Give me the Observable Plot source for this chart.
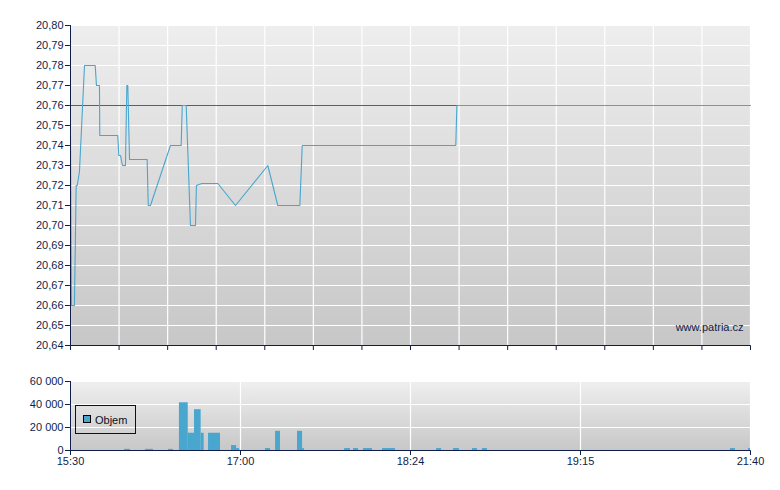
<!DOCTYPE html>
<html>
<head>
<meta charset="utf-8">
<script src="https://cdn.jsdelivr.net/npm/d3@7"></script>
<script src="https://cdn.jsdelivr.net/npm/@observablehq/plot@0.6"></script>
<style>
  body { margin: 0; background: #fff; }
  #wrap { position: relative; width: 780px; height: 490px; font-family: "Liberation Sans", Arial, sans-serif; overflow: hidden; }
  #top, #bot { position: absolute; left: 0; }
  #top { top: 0; }
  #bot { top: 360px; }
  #legend { position: absolute; left: 75px; top: 405px; width: 59px; height: 27px; border: 1px solid #111; }
  #legend .sw { position: absolute; left: 7px; top: 9px; width: 6px; height: 6px; border: 1px solid #000; background: #48a6cf; }
  #legend .lb { position: absolute; left: 19px; top: 9px; font-size: 11px; line-height: 11px; color: #0b0f1e; }
</style>
</head>
<body>
<div id="wrap">
  <div id="top"></div>
  <div id="bot"></div>
  <div id="legend"><span class="sw"></span><span class="lb">Objem</span></div>
</div>
<script>
// ---- data ----
const timeLabels = ["15:30", "17:00", "18:24", "19:15", "21:40"];
const priceTicks = [20.64, 20.65, 20.66, 20.67, 20.68, 20.69, 20.70, 20.71, 20.72, 20.73, 20.74, 20.75, 20.76, 20.77, 20.78, 20.79, 20.80];
const volumeTicks = [0, 20000, 40000, 60000];
const referencePrice = 20.76;

const priceTimes = ["15:30:00","15:30:30","15:32:05","15:33:00","15:33:35","15:34:45","15:37:25","15:43:05","15:43:45","15:45:20",
  "15:45:30","15:55:00","15:55:35","15:56:30","15:57:30","15:59:05","15:59:50","16:00:20","16:01:15","16:10:35",
  "16:11:10","16:12:20","16:22:55","16:28:35","16:29:10","16:31:15","16:33:30","16:36:10","16:36:40","16:39:30",
  "16:48:00","16:57:20","17:13:30","17:18:25","17:29:20","17:30:30","18:37:35","18:37:55","21:40:00"];
const prices = [20.745,20.66,20.66,20.72,20.72,20.727,20.78,20.78,20.77,20.77,
  20.745,20.745,20.735,20.735,20.73,20.73,20.77,20.77,20.733,20.733,
  20.71,20.71,20.74,20.74,20.76,20.76,20.70,20.70,20.72,20.721,
  20.721,20.71,20.73,20.71,20.71,20.74,20.74,20.76,20.76];

const volStart = ["15:58:35","16:09:40","16:21:55","16:27:40","16:32:20","16:35:40","16:39:10","16:43:05","16:55:15","16:57:55",
  "17:12:20","17:17:20","17:28:10","17:30:40","17:51:25","17:55:50","18:00:45","18:10:10","18:31:50","18:36:55",
  "18:42:35","18:45:35","21:22:55","21:38:20"];
const volEnd = ["16:01:45","16:13:55","16:24:30","16:32:20","16:35:40","16:39:10","16:40:45","16:49:25","16:57:55","16:59:30",
  "17:14:50","17:19:45","17:30:40","17:31:35","17:54:20","17:58:20","18:05:15","18:16:35","18:33:20","18:38:40",
  "18:44:05","18:47:05","21:27:10","21:40:00"];
const volumes = [1000,1000,1000,41500,15000,35500,15000,15000,4300,1700,
  1700,16700,16700,1700,1700,1700,1700,1700,1700,1700,
  1700,1700,1700,1700];

// ---- helpers ----
const parse = s => { const [h, m, sec = 0] = s.split(":").map(Number); return h * 3600 + m * 60 + sec; };
const navy = "#0f1d4a";
const blue = "#48a6cf";
const W = 780, ML = 70, MR = 30;
const font = "'Liberation Sans', Arial, sans-serif";

const labelSecs = timeLabels.map(parse);
const labelMap = new Map(labelSecs.map((s, i) => [s, timeLabels[i]]));
const xRange = labelSecs.map((_, i) => ML + i * (W - ML - MR) / (labelSecs.length - 1));
const idxToTime = d3.scaleLinear().domain(d3.range(labelSecs.length)).range(labelSecs);
const gridSecs = d3.range(15).map(k => idxToTime(k * (labelSecs.length - 1) / 14));
const xOpts = { type: "linear", domain: labelSecs, range: xRange, label: null };

const priceData = priceTimes.map((t, i) => ({ t: parse(t), p: prices[i] }));
const volData = volStart.map((s, i) => ({ a: parse(s), b: parse(volEnd[i]), v: volumes[i] }));

const fmtPrice = d => d3.format(".2f")(d).replace(".", ",");
const fmtVol = d3.formatLocale({ decimal: ",", thousands: " ", grouping: [3], currency: ["", ""] }).format(",");

function addGradient(svg, id, c0, c1) {
  d3.select(svg).insert("defs", ":first-child").html(
    `<linearGradient id="${id}" x1="0" y1="0" x2="0" y2="1"><stop offset="0" stop-color="${c0}"/><stop offset="1" stop-color="${c1}"/></linearGradient>`);
}

// ---- top chart ----
const topSvg = Plot.plot({
  width: W, height: 360,
  marginLeft: ML, marginRight: MR, marginTop: 25, marginBottom: 15,
  style: { fontFamily: font, fontSize: "11px", color: navy, background: "transparent" },
  x: { ...xOpts, ticks: gridSecs, tickFormat: () => "", tickSize: 5 },
  y: { domain: [priceTicks[0], priceTicks[priceTicks.length - 1]], ticks: priceTicks, tickFormat: fmtPrice, tickSize: 5, tickPadding: 2, label: null },
  marks: [
    Plot.frame({ fill: "url(#gTop)", stroke: "none" }),
    Plot.ruleY(priceTicks, { stroke: "white", strokeWidth: 1.2 }),
    Plot.ruleX(gridSecs, { stroke: "white", strokeWidth: 1.2 }),
    Plot.ruleY([referencePrice], { stroke: "#cc3030", strokeWidth: 1 }),
    Plot.line(priceData, { x: "t", y: "p", stroke: blue, strokeWidth: 1.1 }),
    Plot.text(["www.patria.cz"], { frameAnchor: "bottom-right", dx: -7, dy: -15, fill: navy, fontSize: 11 }),
    Plot.ruleX([labelSecs[0]], { stroke: navy, strokeWidth: 1 }),
    Plot.ruleY([priceTicks[0]], { stroke: navy, strokeWidth: 1 })
  ]
});
addGradient(topSvg, "gTop", "#eeeeee", "#c7c7c7");
document.getElementById("top").append(topSvg);

// ---- bottom chart ----
const botSvg = Plot.plot({
  width: W, height: 130,
  marginLeft: ML, marginRight: MR, marginTop: 21, marginBottom: 40,
  style: { fontFamily: font, fontSize: "11px", color: navy, background: "transparent" },
  x: { ...xOpts, ticks: labelSecs, tickFormat: d => labelMap.get(d), tickSize: 5, tickPadding: 2 },
  y: { domain: [volumeTicks[0], volumeTicks[volumeTicks.length - 1]], ticks: volumeTicks, tickFormat: fmtVol, tickSize: 5, tickPadding: 2, label: null },
  marks: [
    Plot.frame({ fill: "url(#gBot)", stroke: "none" }),
    Plot.ruleY(volumeTicks, { stroke: "white", strokeWidth: 1.2 }),
    Plot.ruleX(labelSecs, { stroke: "white", strokeWidth: 1.2 }),
    Plot.rectY(volData, { x1: "a", x2: "b", y: "v", fill: blue }),
    Plot.ruleX([labelSecs[0]], { stroke: navy, strokeWidth: 1 }),
    Plot.ruleY([volumeTicks[0]], { stroke: navy, strokeWidth: 1 })
  ]
});
addGradient(botSvg, "gBot", "#efefef", "#c7c7c7");
document.getElementById("bot").append(botSvg);
</script>
</body>
</html>
